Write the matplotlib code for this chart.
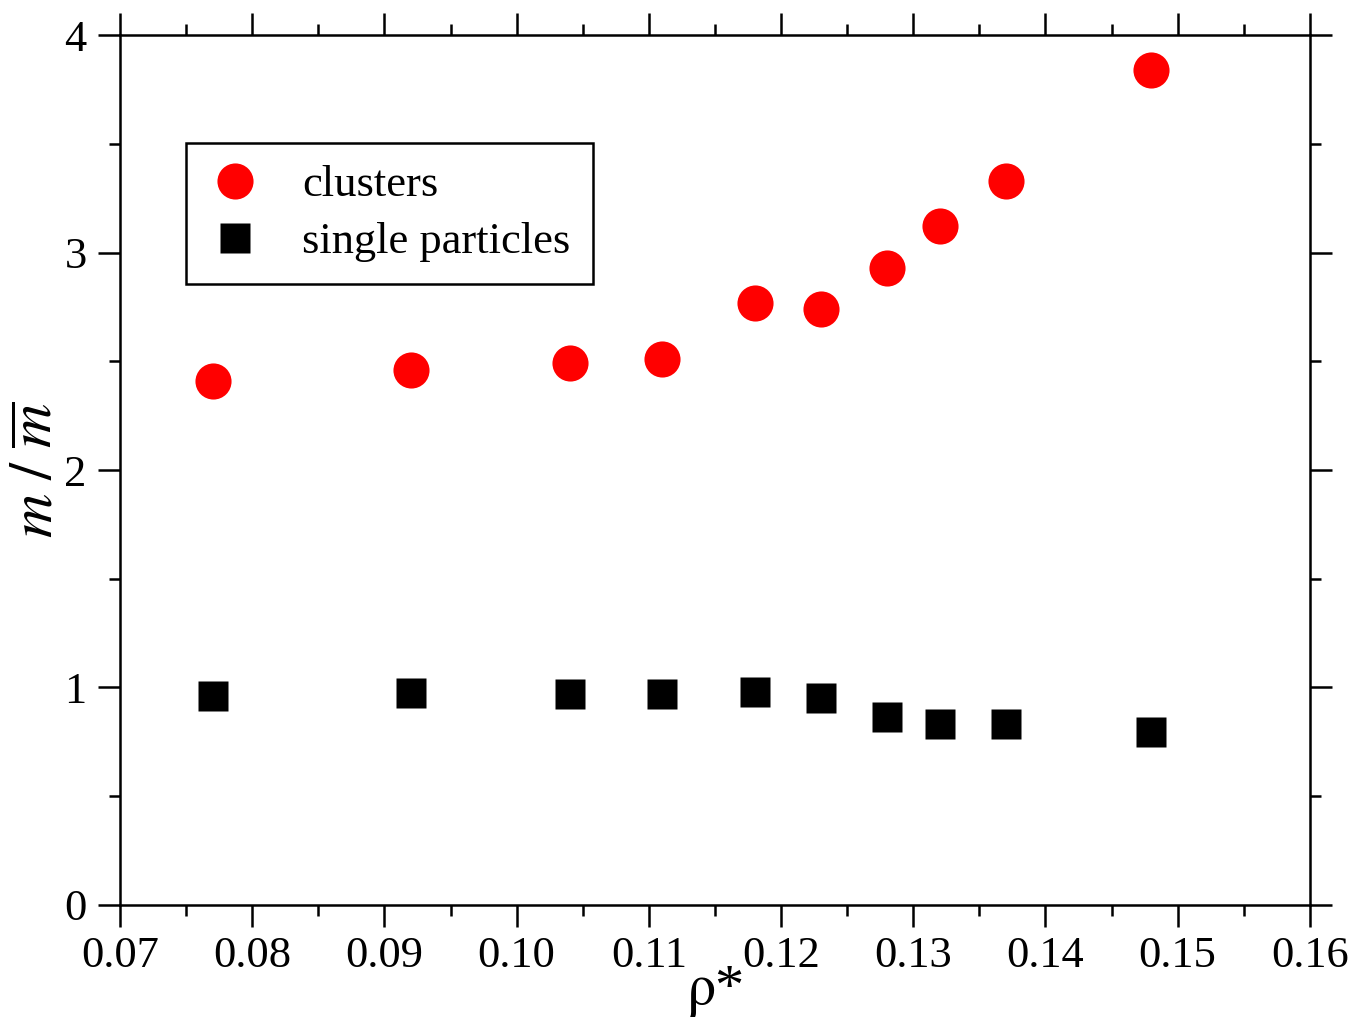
import matplotlib
matplotlib.use("Agg")
import matplotlib.pyplot as plt
from matplotlib.ticker import MultipleLocator, FormatStrFormatter

# density rho* and mass ratio m / m-bar
rho = [0.077, 0.092, 0.104, 0.111, 0.118, 0.123, 0.128, 0.132, 0.137, 0.148]
clusters = [2.41, 2.46, 2.49, 2.51, 2.77, 2.74, 2.93, 3.12, 3.33, 3.84]
singles = [0.96, 0.975, 0.97, 0.97, 0.98, 0.95, 0.865, 0.83, 0.83, 0.795]

plt.rcParams['font.family'] = ['Liberation Serif', 'DejaVu Serif']
plt.rcParams['mathtext.fontset'] = 'stix'

fig = plt.figure(figsize=(13.56, 10.27), dpi=100)
ax = fig.add_axes([0.0885, 0.1188, 0.8775, 0.8471])

ax.plot(rho, clusters, 'o', color='red', ms=26, mec='none', label='clusters')
ax.plot(rho, singles, 's', color='black', ms=22, mec='none', label='single particles')

ax.set_xlim(0.07, 0.16)
ax.set_ylim(0, 4)
ax.xaxis.set_major_locator(MultipleLocator(0.01))
ax.xaxis.set_minor_locator(MultipleLocator(0.005))
ax.yaxis.set_major_locator(MultipleLocator(1))
ax.yaxis.set_minor_locator(MultipleLocator(0.5))
ax.xaxis.set_major_formatter(FormatStrFormatter('%.2f'))

for s in ax.spines.values():
    s.set_linewidth(1.8)
ax.tick_params(which='both', direction='out', top=True, right=True, width=1.8,
               labelsize=32)
ax.tick_params(which='major', length=16)
ax.tick_params(which='minor', length=8)
ax.tick_params(axis='x', pad=6)
ax.tick_params(axis='y', pad=8)

ax.set_ylabel(r'$m\ /\ \overline{m}$', fontsize=44, labelpad=-1)
ax.set_xlabel(r'$\mathrm{\rho}$*', fontsize=42, labelpad=-8)

leg = ax.legend(loc='upper left', bbox_to_anchor=(0.0555, 0.876), borderaxespad=0,
                fontsize=32, frameon=True, fancybox=False, framealpha=1,
                edgecolor='black', handletextpad=0.92, borderpad=0.5,
                labelspacing=0.38, handlelength=1.2)
leg.get_frame().set_linewidth(1.8)

fig.savefig('out.png', dpi=100)
